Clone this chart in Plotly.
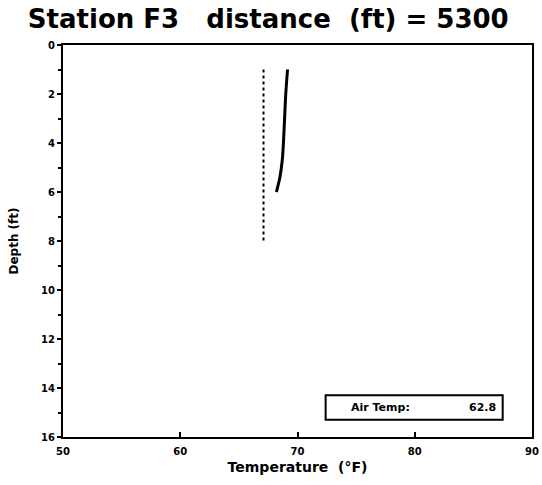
import plotly.graph_objects as go

# data
profile_depth = [1.0, 2.0, 3.0, 4.0, 4.7, 5.4, 6.0]
profile_temp = [69.15, 69.0, 68.9, 68.8, 68.7, 68.5, 68.2]
ref_depth = [1.0, 8.0]
ref_temp = [67.1, 67.1]
air_temp = 62.8
x_ticks = [50, 60, 70, 80, 90]
y_ticks = [0, 2, 4, 6, 8, 10, 12, 14, 16]

font = "DejaVu Sans, Liberation Sans, Arial, sans-serif"

fig = go.Figure()
fig.add_trace(go.Scatter(x=ref_temp, y=ref_depth, mode="lines",
                         line=dict(color="black", width=2, dash="dot"),
                         showlegend=False))
fig.add_trace(go.Scatter(x=profile_temp, y=profile_depth, mode="lines",
                         line=dict(color="black", width=3, shape="spline"),
                         showlegend=False))

fig.update_layout(
    width=542, height=485,
    margin=dict(l=63, r=10, t=45, b=48),
    paper_bgcolor="white", plot_bgcolor="white",
    font=dict(family=font, color="black"),
    title=dict(text="<b>Station F3   distance  (ft) = 5300</b>",
               x=0.495, xanchor="center", y=0.961, yanchor="middle",
               font=dict(size=26, family=font, color="black")),
    xaxis=dict(range=[50, 90], tickvals=x_ticks,
               ticktext=[f"<b>{v}</b>" for v in x_ticks],
               showgrid=False, zeroline=False, automargin=False,
               showline=True, linecolor="black", linewidth=2, mirror=True,
               ticks="inside", ticklen=5, tickwidth=2, tickcolor="black",
               ticklabelstandoff=4,
               tickfont=dict(size=10, family=font),
               title=dict(text="<b>Temperature  (°F)</b>", standoff=6,
                          font=dict(size=14, family=font))),
    yaxis=dict(range=[16, 0], tickvals=y_ticks,
               ticktext=[f"<b>{v}</b>" for v in y_ticks],
               showgrid=False, zeroline=False, automargin=False,
               showline=True, linecolor="black", linewidth=2, mirror=True,
               ticks="outside", ticklen=4, tickwidth=2, tickcolor="black",
               minor=dict(dtick=1, ticks="outside", ticklen=3, tickcolor="black"),
               tickfont=dict(size=10, family=font),
               title=dict(text="<b>Depth (ft)</b>", standoff=20,
                          font=dict(size=12, family=font))),
)

fig.add_shape(type="rect", xref="x", yref="y", x0=72.4, x1=87.5, y0=14.3, y1=15.3,
              line=dict(color="black", width=2), fillcolor="white")
fig.add_annotation(xref="x", yref="y", x=74.4, y=14.8, text="<b>Air Temp:</b>",
                   showarrow=False, xanchor="left", font=dict(size=11, family=font))
fig.add_annotation(xref="x", yref="y", x=87.1, y=14.8, text=f"<b>{air_temp}</b>",
                   showarrow=False, xanchor="right", font=dict(size=11, family=font))

fig.write_html("out.html", config={"displayModeBar": False},
               post_script="document.body.style.margin='0';")
